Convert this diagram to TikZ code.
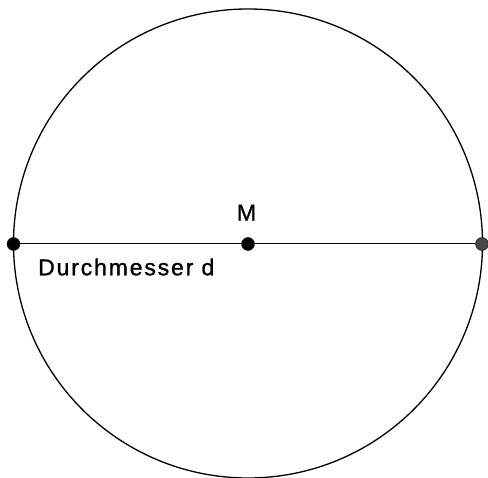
\documentclass[tikz,border=0pt]{standalone}
\usepackage{fontspec}
\setmainfont{Liberation Sans}
\newfontfamily\lblfont[FakeBold=1.2]{Liberation Sans}
\newfontfamily\spaced[LetterSpace=8,FakeBold=1.2]{Liberation Sans}
\begin{document}
\begin{tikzpicture}[x=1pt,y=1pt,
  pt/.style={circle,fill=black,draw=black,inner sep=0pt,minimum size=13pt},
  lbl/.style={inner sep=0pt,font=\fontsize{23}{23}\selectfont}]
\useasboundingbox (0,0) rectangle (488,-478);
\draw[line width=1.3pt] (248,-243.5) circle (234.5);
\node[pt] (A) at (13.5,-244) {};
\node[pt] (M) at (248,-244) {};
\node[pt,fill=black!72] (B) at (482,-244) {};
\draw[line width=1pt] (A) -- (M) -- (B);
\node[lbl,anchor=base] (lm) at (246.5,-220.7) {\lblfont M};
\node[lbl,anchor=base west] (ld) at (38,-275.3) {\spaced Durchmesser d};
\end{tikzpicture}
\end{document}
